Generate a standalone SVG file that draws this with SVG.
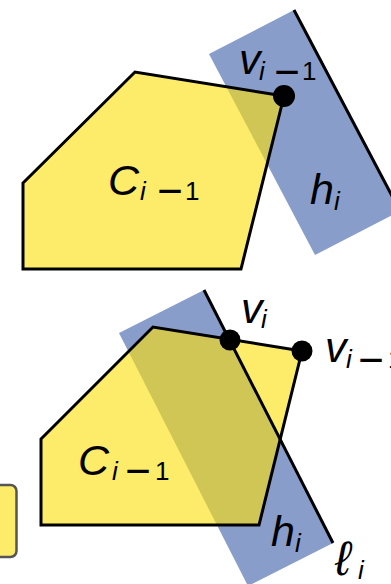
<svg xmlns="http://www.w3.org/2000/svg" width="391" height="584" viewBox="0 0 391 584">
  <style>
    .hull { fill: #FCEC6A; }
    .hullEdge { fill: none; stroke: #000; stroke-width: 3; stroke-linejoin: miter; }
    .half { fill: #889DCA; }
    .overlap { fill: #CFC656; }
    .bound { stroke: #000; stroke-width: 3; fill: none; }
    .pt { fill: #000; }
    .m { font-family: "Liberation Sans", Arial, sans-serif; font-size: 43px; font-style: italic; fill: #000; }
    .s { font-size: 26px; }
    .up { font-style: normal; }
    .minus { font-size: 44px; font-style: normal; }
    .box { fill: #FCEC6A; stroke: #555; stroke-width: 2.5; }
  </style>
  <defs>
    <clipPath id="clipTop"><polygon points="23,183 135,72 284,96 241,269 23,269"/></clipPath>
    <clipPath id="clipBot"><polygon points="41,439 153,327 302,351 259,525 41,525"/></clipPath>
  </defs>

  <g id="side-box">
    <rect class="box" x="-12" y="485" width="28.5" height="72" rx="6"/>
  </g>

  <!-- top panel -->
  <g id="top-halfplane">
    <polygon class="half" points="209,54 294,10 400,211 315,255"/>
  </g>
  <g id="top-hull">
    <polygon class="hull" points="23,183 135,72 284,96 241,269 23,269"/>
    <polygon class="overlap" clip-path="url(#clipTop)" points="209,54 294,10 400,211 315,255"/>
    <polygon class="hullEdge" points="23,183 135,72 284,96 241,269 23,269"/>
  </g>

  <!-- bottom panel -->
  <g id="bottom-halfplane">
    <polygon class="half" points="119,333 204,290 333,543 248,586"/>
  </g>
  <g id="bottom-hull">
    <polygon class="hull" points="41,439 153,327 302,351 259,525 41,525"/>
    <polygon class="overlap" clip-path="url(#clipBot)" points="119,333 204,290 333,543 248,586"/>
    <polygon class="hullEdge" points="41,439 153,327 302,351 259,525 41,525"/>
  </g>

  <g id="connectors">
    <line class="bound" x1="294" y1="10" x2="400" y2="211"/>
    <line class="bound" x1="204" y1="290" x2="333" y2="543"/>
  </g>

  <g id="top-vertex">
    <circle class="pt" cx="284" cy="96" r="11"/>
  </g>
  <g id="bottom-vertex-i">
    <circle class="pt" cx="230" cy="340" r="10.5"/>
  </g>
  <g id="bottom-vertex-prev">
    <circle class="pt" cx="302" cy="351" r="10.5"/>
  </g>

  <g id="labels">
    <text class="m" x="239" y="74">v<tspan class="s" x="259" y="80">i</tspan><tspan class="minus" x="274.2" y="86.8">−</tspan><tspan class="s up" x="302" y="80">1</tspan></text>
    <text class="m" x="108" y="195">C<tspan class="s" x="140" y="199.5">i</tspan><tspan class="minus" x="157.2" y="206.3">−</tspan><tspan class="s up" x="185" y="199.5">1</tspan></text>
    <text class="m" x="310" y="204">h<tspan class="s" x="334" y="210">i</tspan></text>

    <text class="m" x="241" y="323">v<tspan class="s" x="261" y="328">i</tspan></text>
    <text class="m" x="325" y="362">v<tspan class="s" x="346" y="368">i</tspan><tspan class="minus" x="358.2" y="374.8">−</tspan><tspan class="s up" x="388" y="368">1</tspan></text>
    <text class="m" x="78" y="475">C<tspan class="s" x="112" y="479.5">i</tspan><tspan class="minus" x="125.2" y="486.3">−</tspan><tspan class="s up" x="155" y="479.5">1</tspan></text>
    <text class="m" x="271" y="546">h<tspan class="s" x="295" y="551.5">i</tspan></text>
    <text class="m" x="335" y="575" style="font-size:48px">ℓ<tspan class="s" x="358" y="579">i</tspan></text>
  </g>
</svg>
